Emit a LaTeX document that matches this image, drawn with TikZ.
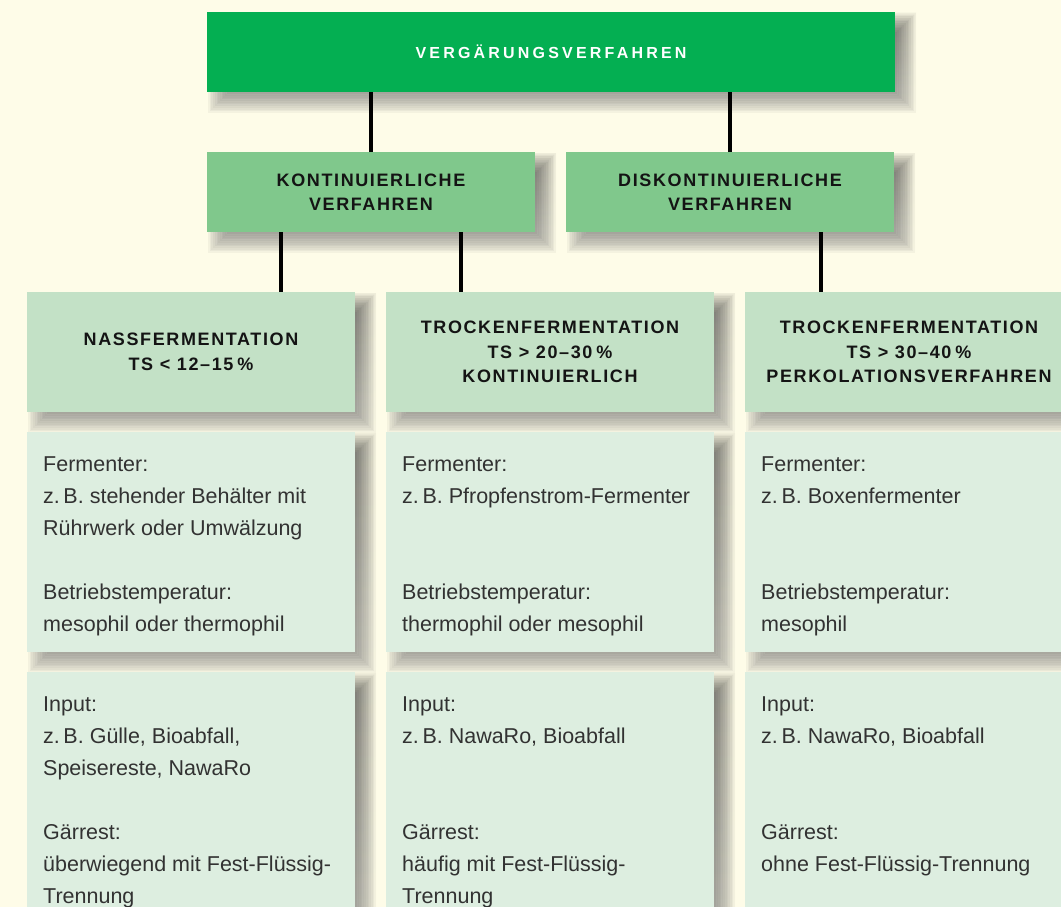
\documentclass[tikz,border=0pt]{standalone}
\usepackage{fontspec}
\setmainfont{Liberation Sans}
\newfontfamily\headfont[LetterSpace=9]{Liberation Sans}
\newfontfamily\titlefont[LetterSpace=20]{Liberation Sans}
\usetikzlibrary{calc}

\definecolor{paper}{RGB}{254,252,232}
\definecolor{titlegreen}{RGB}{4,175,82}
\definecolor{midgreen}{RGB}{128,200,140}
\definecolor{lightgreen}{RGB}{195,225,198}
\definecolor{palegreen}{RGB}{221,238,224}
\definecolor{bodytext}{RGB}{50,50,50}
\definecolor{headtext}{RGB}{20,20,20}
\definecolor{shade}{RGB}{60,55,20}

\pgfdeclarelayer{shadowlayer}
\pgfsetlayers{shadowlayer,main}

\tikzset{
  panel/.style={anchor=north west, inner sep=0pt, outer sep=0pt,
    minimum width=328pt, align=center},
  titlebox/.style={panel, fill=titlegreen, minimum width=688pt, minimum height=80pt,
    text=white, font=\titlefont\bfseries\fontsize{16}{20}\selectfont},
  groupbox/.style={panel, fill=midgreen, minimum height=80pt,
    text=headtext, font=\headfont\bfseries\fontsize{18}{23.5}\selectfont},
  procbox/.style={panel, fill=lightgreen, minimum height=120pt,
    text=headtext, font=\headfont\bfseries\fontsize{18}{24.5}\selectfont},
  infobox/.style={panel, fill=palegreen},
  infotext/.style={anchor=north west, inner sep=0pt, align=left,
    text=bodytext, font=\fontsize{21.5}{32}\selectfont},
  link/.style={line width=3.2pt, black},
}

% soft drop shadow behind a node: stacked translucent rectangles,
% offset down and to the right
\newcommand\dropshade[1]{%
  \foreach \k in {0,...,11}{%
    \fill[shade, opacity=0.04]
      ($(#1.north west)+(11-10+\k*1.7,11-10+\k*1.7)$) rectangle
      ($(#1.south east)+(11+10-\k*1.7,11+10-\k*1.7)$);
  }%
}

\begin{document}
\begin{tikzpicture}[x=1pt, y=-1pt]
\useasboundingbox (0,0) rectangle (1061,907);
\clip (0,0) rectangle (1061,907);
\begin{pgfonlayer}{shadowlayer}
  \fill[paper] (0,0) rectangle (1061,907);
\end{pgfonlayer}

% top level
\node[titlebox] (root) at (207,12) {VERGÄRUNGSVERFAHREN};

% second level
\node[groupbox] (kont) at (207,152) {KONTINUIERLICHE\\VERFAHREN};
\node[groupbox] (disk) at (566,152) {DISKONTINUIERLICHE\\VERFAHREN};

% third level
\node[procbox] (nass) at (27,292) {NASSFERMENTATION\\TS < 12–15\kern4pt\%};
\node[procbox] (troc) at (386,292) {TROCKENFERMENTATION\\TS > 20–30\kern4pt\%\\KONTINUIERLICH};
\node[procbox] (perk) at (745,292) {TROCKENFERMENTATION\\TS > 30–40\kern4pt\%\\PERKOLATIONSVERFAHREN};

% detail panels
\node[infobox, minimum height=220pt] (nassA) at (27,432) {};
\node[infobox, minimum height=220pt] (trocA) at (386,432) {};
\node[infobox, minimum height=220pt] (perkA) at (745,432) {};
\node[infobox, minimum height=260pt] (nassB) at (27,672) {};
\node[infobox, minimum height=260pt] (trocB) at (386,672) {};
\node[infobox, minimum height=260pt] (perkB) at (745,672) {};

\node[infotext] (nassAt) at ($(nassA.north west)+(16,17)$)
  {\strut Fermenter:\\z.\,B. stehender Behälter mit\\Rührwerk oder Umwälzung\\[32pt]Betriebstemperatur:\\mesophil oder thermophil};
\node[infotext] (trocAt) at ($(trocA.north west)+(16,17)$)
  {\strut Fermenter:\\z.\,B. Pfropfenstrom-Fermenter\\[64pt]Betriebstemperatur:\\thermophil oder mesophil};
\node[infotext] (perkAt) at ($(perkA.north west)+(16,17)$)
  {\strut Fermenter:\\z.\,B. Boxenfermenter\\[64pt]Betriebstemperatur:\\mesophil};
\node[infotext] (nassBt) at ($(nassB.north west)+(16,17)$)
  {\strut Input:\\z.\,B. Gülle, Bioabfall,\\Speisereste, NawaRo\\[32pt]Gärrest:\\überwiegend mit Fest-Flüssig-\\Trennung};
\node[infotext] (trocBt) at ($(trocB.north west)+(16,17)$)
  {\strut Input:\\z.\,B. NawaRo, Bioabfall\\[64pt]Gärrest:\\häufig mit Fest-Flüssig-\\Trennung};
\node[infotext] (perkBt) at ($(perkB.north west)+(16,17)$)
  {\strut Input:\\z.\,B. NawaRo, Bioabfall\\[64pt]Gärrest:\\ohne Fest-Flüssig-Trennung};

% shadows under every panel
\begin{pgfonlayer}{shadowlayer}
  \foreach \n in {root,kont,disk,nass,troc,perk,nassA,trocA,perkA,nassB,trocB,perkB}{%
    \dropshade{\n}}
\end{pgfonlayer}

% connectors
\draw[link] (kont.north) -- (kont.north |- root.south);
\draw[link] (disk.north) -- (disk.north |- root.south);
\coordinate (k1) at ($(kont.south west)+(74,0)$);
\coordinate (k2) at ($(kont.south west)+(254,0)$);
\coordinate (d1) at ($(disk.south west)+(255,0)$);
\draw[link] (k1) -- (k1 |- nass.north);
\draw[link] (k2) -- (k2 |- troc.north);
\draw[link] (d1) -- (d1 |- perk.north);
\end{tikzpicture}
\end{document}
